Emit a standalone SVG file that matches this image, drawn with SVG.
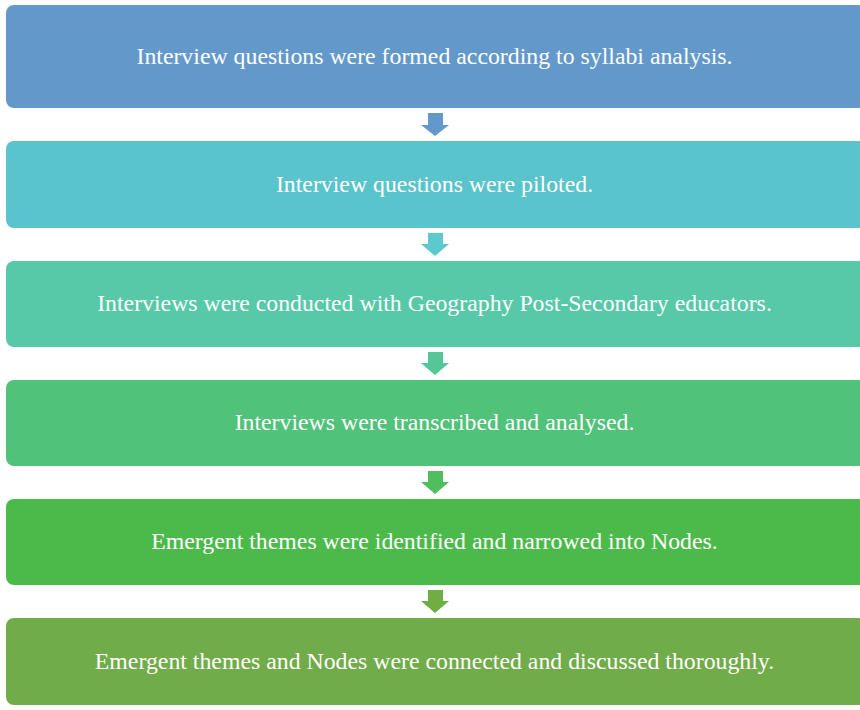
<svg xmlns="http://www.w3.org/2000/svg" width="860" height="710" viewBox="0 0 860 710">
  <style>
    .step { stroke: none; }
    .label { font-family: "Liberation Serif", "Times New Roman", serif; font-size: 23.8px; fill: #ffffff; text-anchor: middle; }
    .s1 { fill: #6399CA; }
    .s2 { fill: #5AC4CC; }
    .s3 { fill: #57C9A8; }
    .s4 { fill: #51C27A; }
    .s5 { fill: #4CBA4B; }
    .s6 { fill: #71AC4A; }
    .a1 { fill: #6399CA; }
    .a2 { fill: #5BC9CE; }
    .a3 { fill: #55C796; }
    .a4 { fill: #4FBE5E; }
    .a5 { fill: #6FAD45; }
  </style>
  <rect width="860" height="710" fill="#ffffff"/>

  <g id="step1">
    <rect class="step s1" x="6" y="5" width="860" height="103" rx="8"/>
    <text class="label" x="434.5" y="64">Interview questions were formed according to syllabi analysis.</text>
  </g>
  <g id="step2">
    <rect class="step s2" x="6" y="141" width="860" height="87" rx="8"/>
    <text class="label" x="434.5" y="192">Interview questions were piloted.</text>
  </g>
  <g id="step3">
    <rect class="step s3" x="6" y="261" width="860" height="86" rx="8"/>
    <text class="label" x="434.5" y="311">Interviews were conducted with Geography Post-Secondary educators.</text>
  </g>
  <g id="step4">
    <rect class="step s4" x="6" y="380" width="860" height="86" rx="8"/>
    <text class="label" x="434.5" y="430">Interviews were transcribed and analysed.</text>
  </g>
  <g id="step5">
    <rect class="step s5" x="6" y="499" width="860" height="86" rx="8"/>
    <text class="label" x="434.5" y="549">Emergent themes were identified and narrowed into Nodes.</text>
  </g>
  <g id="step6">
    <rect class="step s6" x="6" y="618" width="860" height="87" rx="8"/>
    <text class="label" x="434.5" y="669">Emergent themes and Nodes were connected and discussed thoroughly.</text>
  </g>

  <g id="connectors">
    <path class="a1" d="M428,113 H443 V125 H449 L435,136 L421,125 H428 Z"/>
    <path class="a2" d="M428,233 H443 V244 H449 L435,256 L421,244 H428 Z"/>
    <path class="a3" d="M428,352 H443 V363 H449 L435,375 L421,363 H428 Z"/>
    <path class="a4" d="M428,471 H443 V482 H449 L435,494 L421,482 H428 Z"/>
    <path class="a5" d="M428,590 H443 V601 H449 L435,613 L421,601 H428 Z"/>
  </g>
</svg>
